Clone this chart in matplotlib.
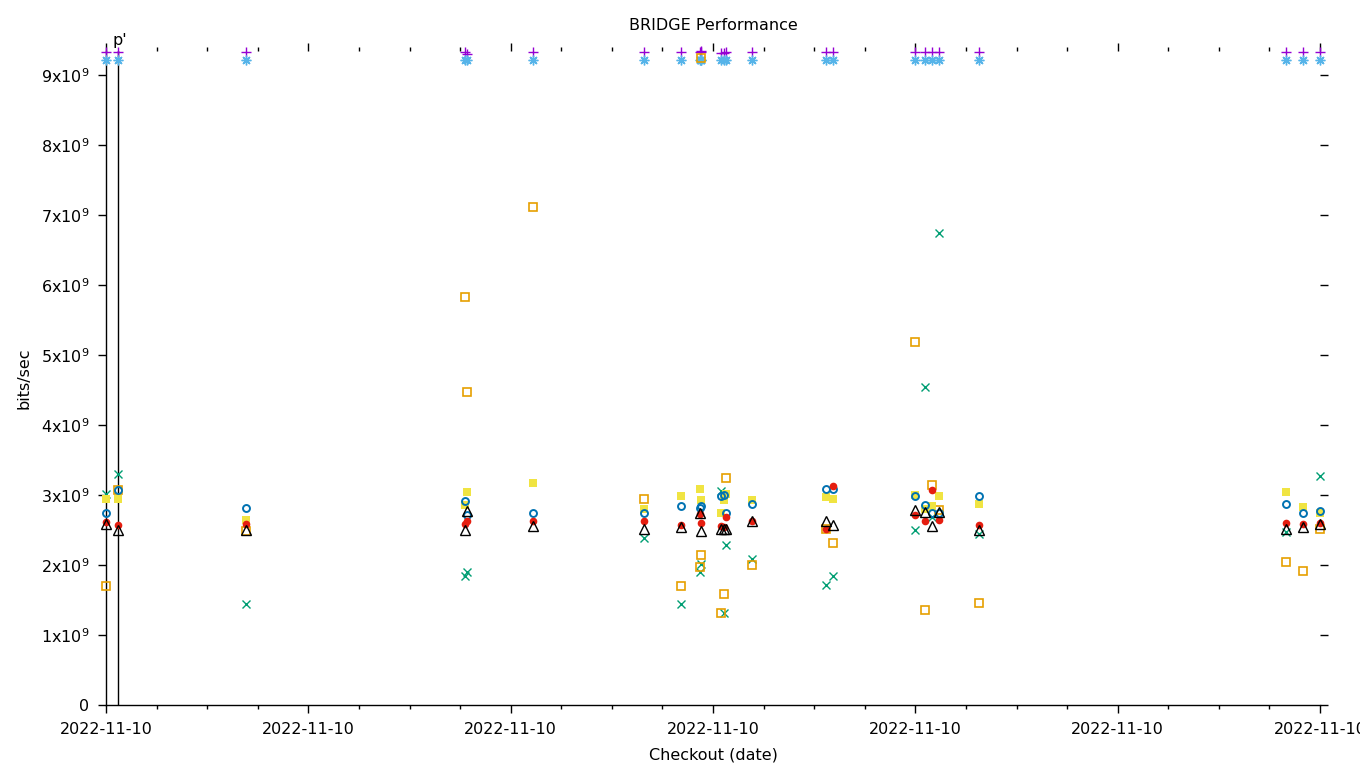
import matplotlib
matplotlib.use("Agg")
import matplotlib.pyplot as plt
import matplotlib.dates as mdates
from matplotlib.ticker import FixedLocator, FuncFormatter
import numpy as np
import pandas as pd

plt.rcParams['font.family'] = ['DejaVu Sans']

nan = np.nan

# checkout times (x axis)
checkout_times = [
    "2022-11-10 00:00:00", "2022-11-10 00:07:00", "2022-11-10 01:23:00", "2022-11-10 03:33:00",
    "2022-11-10 03:34:00", "2022-11-10 04:13:00", "2022-11-10 05:19:00", "2022-11-10 05:41:00",
    "2022-11-10 05:52:00", "2022-11-10 05:52:40", "2022-11-10 05:53:00", "2022-11-10 06:05:00",
    "2022-11-10 06:06:30", "2022-11-10 06:08:00", "2022-11-10 06:23:00", "2022-11-10 07:07:00",
    "2022-11-10 07:11:00", "2022-11-10 08:00:00", "2022-11-10 08:06:00", "2022-11-10 08:10:00",
    "2022-11-10 08:14:00", "2022-11-10 08:38:00", "2022-11-10 11:40:00", "2022-11-10 11:50:00",
    "2022-11-10 12:00:00",
]

# series values in units of 1e9 bits/sec
s_purple = [9.33, 9.33, 9.33, 9.33, 9.30, 9.33, 9.33, 9.33, 9.33, 9.34, 9.33, 9.31,
            9.32, 9.33, 9.33, 9.33, 9.33, 9.33, 9.33, 9.33, 9.33, 9.33, 9.33, 9.33, 9.33]
s_green = [3.02, 3.30, 1.45, 1.85, 1.90, nan, 2.38, 1.45, 1.90, nan, 2.01, 3.06,
           1.32, 2.28, 2.09, 1.72, 1.85, 2.50, 4.54, 2.69, 6.74, 2.44, 2.47, nan, 3.27]
s_lightblue = [9.22, 9.22, 9.22, 9.22, 9.22, 9.22, 9.22, 9.22, 9.22, 9.22, 9.22, 9.22,
               9.22, 9.22, 9.22, 9.22, 9.22, 9.22, 9.22, 9.22, 9.22, 9.22, 9.22, 9.22, 9.22]
s_orange = [1.70, 3.07, 2.48, 5.83, 4.47, 7.11, 2.95, 1.70, 1.97, 9.24, 2.14, 1.31,
            1.58, 3.25, 2.00, 2.52, 2.31, 5.19, 1.36, 3.15, 2.79, 1.46, 2.05, 1.91, 2.51]
s_yellow = [2.94, 2.95, 2.65, 2.86, 3.04, 3.17, 2.80, 2.99, 3.08, nan, 2.93, 2.75,
            2.93, 3.01, 2.93, 2.97, 2.95, 3.00, 2.80, 2.84, 2.99, 2.87, 3.05, 2.83, 2.75]
s_blue = [2.75, 3.07, 2.82, 2.92, 2.72, 2.75, 2.75, 2.84, 2.81, nan, 2.84, 2.99,
          3.00, 2.75, 2.87, 3.08, 3.09, 2.99, 2.86, 2.75, 2.75, 2.99, 2.87, 2.75, 2.77]
s_red = [2.62, 2.57, 2.59, 2.59, 2.63, 2.63, 2.63, 2.57, 2.73, nan, 2.60, 2.56,
         2.54, 2.68, 2.63, 2.52, 3.13, 2.71, 2.63, 3.07, 2.65, 2.57, 2.60, 2.59, 2.60]
s_black = [2.58, 2.50, 2.50, 2.50, 2.77, 2.56, 2.51, 2.54, 2.74, nan, 2.49, 2.51,
           2.52, 2.52, 2.63, 2.63, 2.57, 2.79, 2.76, 2.56, 2.76, 2.50, 2.52, 2.54, 2.59]

ytick_values = [0, 1, 2, 3, 4, 5, 6, 7, 8, 9]
marker_time = "2022-11-10 00:07:00"
marker_label = "p'"

x = pd.to_datetime(checkout_times, format="%Y-%m-%d %H:%M:%S")

fig = plt.figure(figsize=(13.6, 7.68), dpi=100)
W, H = 1360, 768
left, right, bottom, top = 106, 1320, 705, 51
ax = fig.add_axes([left / W, 1 - bottom / H, (right - left) / W, (bottom - top) / H])

styles = [
    (s_purple, dict(marker='+', color='#9400d3', ms=7, mew=1.0, ls='none')),
    (s_green, dict(marker='x', color='#009e73', ms=5.5, mew=1.0, ls='none')),
    (s_lightblue, dict(marker=(8, 2, 0), color='#56b4e9', ms=7, mew=1.0, ls='none')),
    (s_orange, dict(marker='s', color='#e69f00', ms=6, mew=1.2, mfc='none', ls='none')),
    (s_yellow, dict(marker='s', color='#f0e442', ms=6, mew=0, ls='none')),
    (s_blue, dict(marker='o', color='#0072b2', ms=5, mew=1.4, mfc='none', ls='none')),
    (s_red, dict(marker='o', color='#e51e10', ms=5.5, mew=0, ls='none')),
    (s_black, dict(marker='^', color='black', ms=6.5, mew=1.0, mfc='none', ls='none')),
]
for vals, st in styles:
    ax.plot(x, np.array(vals) * 1e9, clip_on=False, zorder=3, **st)

t0 = pd.Timestamp("2022-11-10 00:00:00")
t1 = pd.Timestamp("2022-11-10 12:00:00")
ax.set_xlim(t0, t1)
ax.set_ylim(0, (bottom - top) / 70.0 * 1e9)

ax.xaxis.set_major_locator(mdates.HourLocator(byhour=range(0, 24, 2)))
ax.xaxis.set_minor_locator(mdates.MinuteLocator(byminute=[0, 30]))
ax.xaxis.set_major_formatter(mdates.DateFormatter('%Y-%m-%d'))

ax.yaxis.set_major_locator(FixedLocator([v * 1e9 for v in ytick_values]))
ax.yaxis.set_major_formatter(FuncFormatter(
    lambda v, p: '0' if v == 0 else '%dx10$^{9}$' % round(v / 1e9)))

for s in ['top', 'right']:
    ax.spines[s].set_visible(False)
for s in ['left', 'bottom']:
    ax.spines[s].set_linewidth(1.0)

ax.tick_params(which='both', direction='out', top=True, right=True,
               labelsize=11.5, width=1.0)
ax.tick_params(which='major', length=6, pad=6)
ax.tick_params(which='minor', length=3)
ax.tick_params(axis='y', which='minor', left=False, right=False)

ax.axvline(pd.Timestamp(marker_time), color='black', lw=1.0, zorder=2)
ax.annotate(marker_label, xy=(pd.Timestamp(marker_time), 1.0),
            xycoords=('data', 'axes fraction'), xytext=(1.5, 4.5),
            textcoords='offset points', ha='center', va='baseline', fontsize=11.5)

ax.set_title("BRIDGE Performance", fontsize=11.5, pad=15)
ax.set_xlabel("Checkout (date)", fontsize=11.5, labelpad=7.5)
ax.set_ylabel("bits/sec", fontsize=11.5, labelpad=7)

fig.savefig("out.png", dpi=100)
